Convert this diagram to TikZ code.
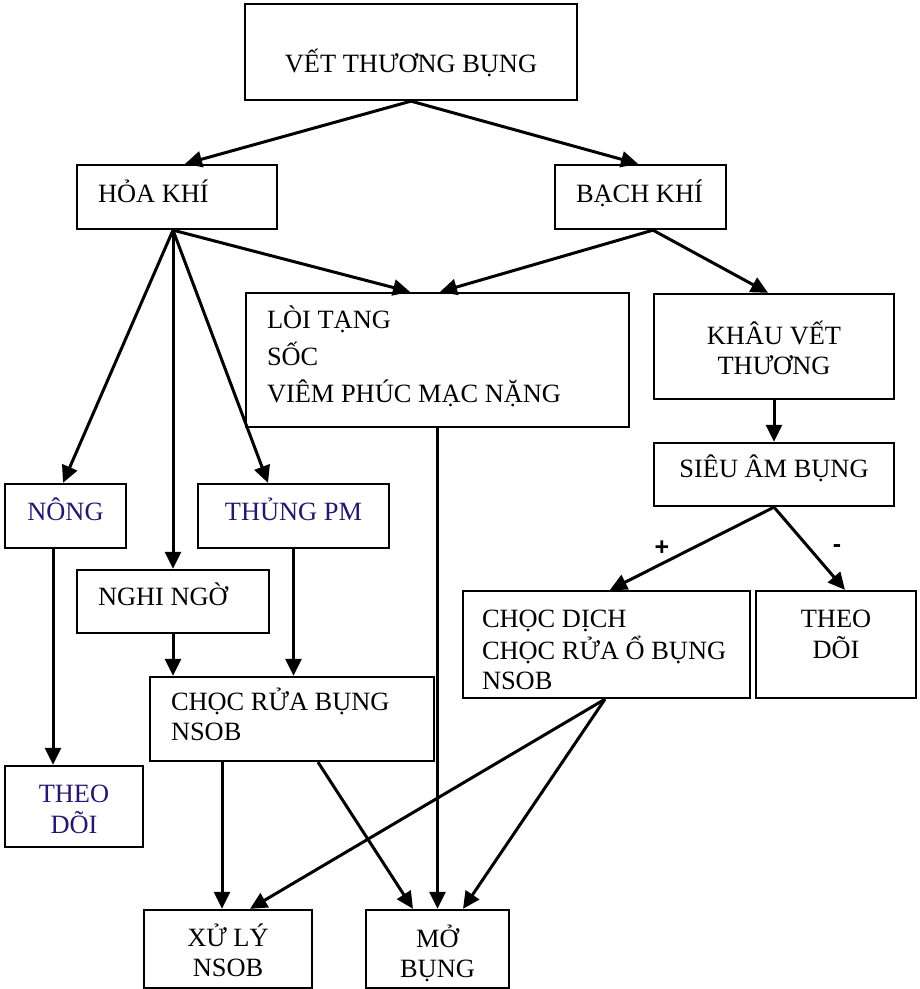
\documentclass[tikz,border=0pt]{standalone}
\usepackage{fontspec}
\setmainfont{Liberation Serif}
\newfontfamily\signfont{Liberation Sans}
\usetikzlibrary{arrows.meta,calc}
\definecolor{navytext}{RGB}{38,22,110}
\newcommand\boxtext[3]{\raisebox{#1}[0pt][0pt]{\begin{tabular}[t]{@{}#2@{}}#3\end{tabular}}}
\begin{document}
\begin{tikzpicture}[x=1pt,y=-1pt,
  box/.style={draw, line width=2.3pt, inner ysep=0pt, inner xsep=0pt,
    font=\fontsize{26.4}{30}\selectfont},
  arr/.style={line width=3pt, -{Triangle[length=17pt,width=16pt]}},
  sign/.style={font=\signfont\bfseries\fontsize{25}{25}\selectfont, inner sep=0pt, text height=0pt, text depth=0pt}]
\useasboundingbox (0,0) rectangle (920,989);
\fill[white] (0,0) rectangle (920,989);

% boxes
\node[box, minimum width=332pt, minimum height=96pt] (vtb) at (411,52)
  {\boxtext{-20pt}{c}{VẾT THƯƠNG BỤNG}};
\node[box, minimum width=200pt, minimum height=64pt, inner xsep=21pt] (hoa) at (177,197)
  {\boxtext{-5pt}{p{158pt}}{HỎA KHÍ}};
\node[box, minimum width=171pt, minimum height=64pt, inner xsep=21pt] (bach) at (640.5,197)
  {\boxtext{-5pt}{p{129pt}}{BẠCH KHÍ}};
\node[box, minimum width=383pt, minimum height=134pt, inner xsep=21pt] (loi) at (437.5,360)
  {\boxtext{32pt}{p{341pt}}{LÒI TẠNG\\[5pt] SỐC\\[5pt] VIÊM PHÚC MẠC NẶNG}};
\node[box, minimum width=240pt, minimum height=105pt] (khau) at (774,346.5)
  {\boxtext{2.5pt}{c}{KHÂU VẾT\\ THƯƠNG}};
\node[box, minimum width=240pt, minimum height=63pt] (sieu) at (774,474.5)
  {\boxtext{-2.5pt}{c}{SIÊU ÂM BỤNG}};
\node[box, minimum width=121pt, minimum height=64pt, text=navytext] (nong) at (65.5,516)
  {\boxtext{-4pt}{c}{NÔNG}};
\node[box, minimum width=191pt, minimum height=64pt, text=navytext] (thung) at (293.5,516)
  {\boxtext{-4pt}{c}{THỦNG PM}};
\node[box, minimum width=192pt, minimum height=63pt, inner xsep=21pt] (nghi) at (173,601.5)
  {\boxtext{-3.5pt}{p{150pt}}{NGHI NGỜ}};
\node[box, minimum width=284pt, minimum height=84pt, inner xsep=21pt] (chocrua) at (292,719)
  {\boxtext{9pt}{p{242pt}}{CHỌC RỬA BỤNG\\ NSOB}};
\node[box, minimum width=287pt, minimum height=107pt, inner xsep=19pt] (chocdich) at (606.5,644.5)
  {\boxtext{17.5pt}{p{249pt}}{CHỌC DỊCH\\ CHỌC RỬA Ổ BỤNG\\ NSOB}};
\node[box, minimum width=160pt, minimum height=107pt] (theo2) at (836,644.5)
  {\boxtext{17.5pt}{c}{THEO\\ DÕI}};
\node[box, minimum width=138pt, minimum height=81pt, text=navytext] (theo1) at (74,806.5)
  {\boxtext{4.5pt}{c}{THEO\\ DÕI}};
\node[box, minimum width=168pt, minimum height=78pt] (xuly) at (228,949)
  {\boxtext{3pt}{c}{XỬ LÝ\\ NSOB}};
\node[box, minimum width=143pt, minimum height=78pt] (mo) at (437.5,949)
  {\boxtext{2pt}{c}{MỞ\\ BỤNG}};

% signs
\node[sign] (plus) at (662,555) {+};
\node[sign] (minus) at (837,552) {-};

% connectors
\draw[arr] (vtb.south) -- ([xshift=8pt]hoa.north);
\draw[arr] (vtb.south) -- ([xshift=-2.5pt]bach.north);

\coordinate (hoaout) at ([xshift=-4pt]hoa.south);
\draw[arr] (hoaout) -- ([xshift=-2.5pt]nong.north);
\draw[arr] (hoaout) -- (hoaout |- nghi.north);
\draw[arr] (hoaout) -- ([xshift=-25.5pt]thung.north);
\draw[arr] (hoaout) -- ([xshift=-27.5pt]loi.north);

\coordinate (bachout) at ([xshift=12.5pt]bach.south);
\draw[arr] (bachout) -- ([xshift=2.5pt]loi.north);
\draw[arr] (bachout) -- ([xshift=-6pt]khau.north);

\draw[arr] (khau.south) -- (sieu.north);
\draw[arr] (sieu.south) -- ([xshift=3.5pt]chocdich.north);
\draw[arr] (sieu.south) -- ([xshift=9pt]theo2.north);

\coordinate (nongout) at ([xshift=-12.5pt]nong.south);
\draw[arr] (nongout) -- (nongout |- theo1.north);
\draw[arr] (nghi.south) -- (nghi.south |- chocrua.north);
\draw[arr] (thung.south) -- (thung.south |- chocrua.north);
\draw[arr] (loi.south) -- (loi.south |- mo.north);

\coordinate (crout) at ([xshift=-70pt]chocrua.south);
\draw[arr] (crout) -- (crout |- xuly.north);
\draw[arr] ([xshift=26pt]chocrua.south) -- ([xshift=-24.5pt]mo.north);

\coordinate (cdout) at ([xshift=-1.5pt]chocdich.south);
\draw[arr] (cdout) -- ([xshift=22pt]xuly.north);
\draw[arr] (cdout) -- ([xshift=25.5pt]mo.north);
\end{tikzpicture}
\end{document}
